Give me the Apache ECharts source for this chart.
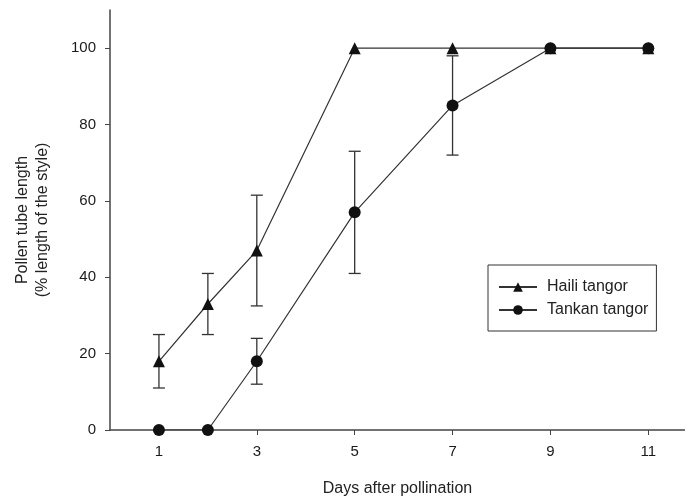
<!DOCTYPE html>
<html>
<head>
<meta charset="utf-8">
<script src="https://cdn.jsdelivr.net/npm/echarts@6/dist/echarts.min.js"></script>
<style>
  html, body { margin: 0; padding: 0; background: #fff; }
  #chart { width: 685px; height: 502px; }
</style>
</head>
<body>
<div id="chart"></div>
<script>
    // days after pollination
    var days = [1, 2, 3, 5, 7, 9, 11];
    var haili = [18, 33, 47, 100, 100, 100, 100];
    var tankan = [0, 0, 18, 57, 85, 100, 100];
    // error bars [day, low, high]
    var hailiErr = [[1, 11, 25], [2, 25, 41], [3, 32.5, 61.5]];
    var tankanErr = [[3, 12, 24], [5, 41, 73], [7, 72, 98]];
    var xTicks = [1, 3, 5, 7, 9, 11];
    var yTicks = [0, 20, 40, 60, 80, 100];

    function pairs(ys) {
        return days.map(function (d, i) { return [d, ys[i]]; });
    }

    function errBar(params, api) {
        var x = api.value(0);
        var lo = api.coord([x, api.value(1)]);
        var hi = api.coord([x, api.value(2)]);
        var w = 6;
        var st = { stroke: '#333', lineWidth: 1.3 };
        return {
            type: 'group',
            children: [
                { type: 'line', shape: { x1: lo[0], y1: lo[1], x2: hi[0], y2: hi[1] }, style: st },
                { type: 'line', shape: { x1: lo[0] - w, y1: lo[1], x2: lo[0] + w, y2: lo[1] }, style: st },
                { type: 'line', shape: { x1: hi[0] - w, y1: hi[1], x2: hi[0] + w, y2: hi[1] }, style: st }
            ]
        };
    }

    var chart = echarts.init(document.getElementById('chart'));
    var font = 'Liberation Sans, Arial, sans-serif';
    var option = {
        animation: false,
        textStyle: { fontFamily: font },
        grid: { left: 110, right: 0, top: 10, bottom: 71 },
        legend: {
            orient: 'vertical',
            left: 488,
            top: 265,
            padding: [14, 8, 13, 10],
            borderColor: '#333',
            borderWidth: 1,
            itemWidth: 38,
            itemHeight: 12,
            itemGap: 7,
            textStyle: { fontSize: 16, color: '#222', fontFamily: font, padding: [0, 0, 0, 5] },
            data: ['Haili tangor', 'Tankan tangor']
        },
        xAxis: {
            type: 'value',
            min: 0,
            max: 11.75,
            name: 'Days after pollination',
            nameLocation: 'middle',
            nameGap: 51,
            nameTextStyle: { fontSize: 16, color: '#222' },
            splitLine: { show: false },
            axisLine: { lineStyle: { color: '#444', width: 1.5 } },
            axisTick: { customValues: xTicks, length: 5, lineStyle: { color: '#444' } },
            axisLabel: { customValues: xTicks, fontSize: 15, color: '#1a1a1a', margin: 14 }
        },
        yAxis: {
            type: 'value',
            min: 0,
            max: 110,
            name: 'Pollen tube length\n(% length of the style)',
            nameLocation: 'middle',
            nameGap: 57,
            nameTextStyle: { fontSize: 16, color: '#222', lineHeight: 20 },
            splitLine: { show: false },
            axisLine: { show: true, lineStyle: { color: '#444', width: 1.5 } },
            axisTick: { show: true, customValues: yTicks, length: 5, lineStyle: { color: '#444' } },
            axisLabel: { customValues: yTicks, fontSize: 15, color: '#1a1a1a', margin: 14 }
        },
        series: [
            {
                name: 'Haili tangor',
                type: 'line',
                data: pairs(haili),
                symbol: 'triangle',
                symbolSize: 12,
                itemStyle: { color: '#111' },
                lineStyle: { color: '#333', width: 1.2 },
                z: 3
            },
            {
                name: 'Tankan tangor',
                type: 'line',
                data: pairs(tankan),
                symbol: 'circle',
                symbolSize: 12,
                itemStyle: { color: '#111' },
                lineStyle: { color: '#333', width: 1.2 },
                z: 3
            },
            {
                type: 'custom',
                renderItem: errBar,
                data: hailiErr,
                z: 2
            },
            {
                type: 'custom',
                renderItem: errBar,
                data: tankanErr,
                z: 2
            }
        ]
    };
    chart.setOption(option);
</script>
</body>
</html>
